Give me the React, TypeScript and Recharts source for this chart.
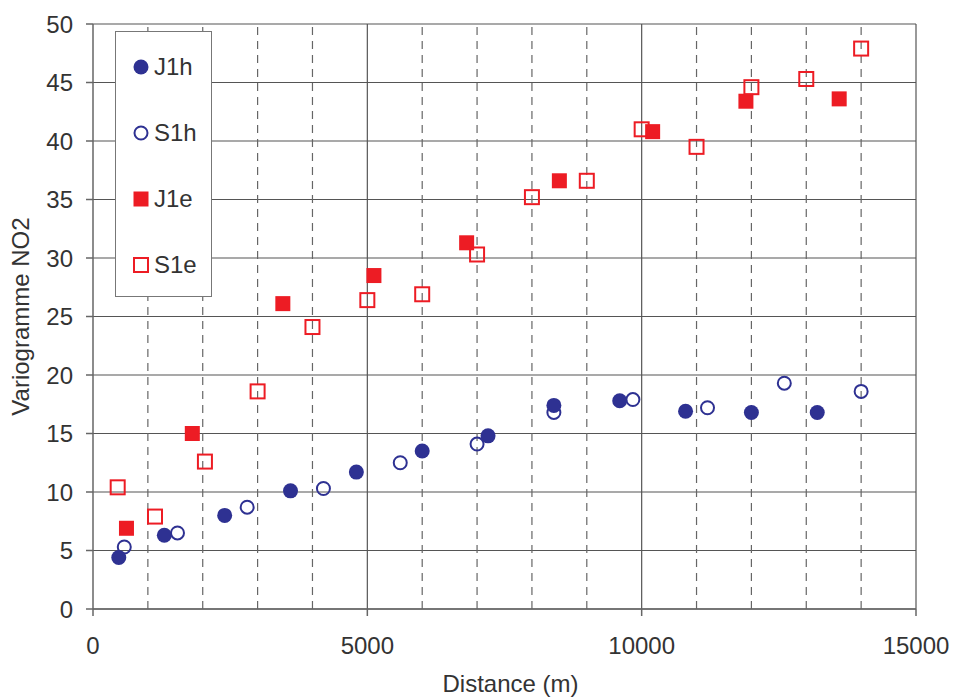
import { ScatterChart, Scatter, XAxis, YAxis, CartesianGrid, ReferenceLine, Legend } from 'recharts';

const j1hX = [470, 1300, 2400, 3600, 4800, 6000, 7200, 8400, 9600, 10800, 12000, 13200];
const j1hY = [4.4, 6.3, 8.0, 10.1, 11.7, 13.5, 14.8, 17.4, 17.8, 16.9, 16.8, 16.8];
const s1hX = [570, 1540, 2810, 4200, 5600, 7000, 8400, 9840, 11200, 12600, 14000];
const s1hY = [5.3, 6.5, 8.7, 10.3, 12.5, 14.1, 16.8, 17.9, 17.2, 19.3, 18.6];
const j1eX = [610, 1810, 3460, 5120, 6810, 8500, 10200, 11900, 13600];
const j1eY = [6.9, 15.0, 26.1, 28.5, 31.3, 36.6, 40.8, 43.4, 43.6];
const s1eX = [450, 1130, 2040, 3000, 4000, 5000, 6000, 7000, 8000, 9000, 10000, 11000, 12000, 13000, 14000];
const s1eY = [10.4, 7.9, 12.6, 18.6, 24.1, 26.4, 26.9, 30.3, 35.2, 36.6, 41.0, 39.5, 44.6, 45.3, 47.9];

const xTicks = [0, 5000, 10000, 15000];
const yTicks = [0, 5, 10, 15, 20, 25, 30, 35, 40, 45, 50];
const minorX = [1000, 2000, 3000, 4000, 6000, 7000, 8000, 9000, 11000, 12000, 13000, 14000];
const majorX = [5000, 10000, 15000];

const navy = '#2E3192';
const red = '#ED1C24';
const font = '"Liberation Sans", Arial, sans-serif';
const txt = '#333';

const toPts = (xs: number[], ys: number[]) => xs.map((x, i) => ({ x, y: ys[i] }));

const marker = (kind: string, cx: number, cy: number) => {
  if (kind === 'J1h') return <circle cx={cx} cy={cy} r={7.5} fill={navy} />;
  if (kind === 'S1h') return <circle cx={cx} cy={cy} r={6.5} fill="none" stroke={navy} strokeWidth={2} />;
  if (kind === 'J1e') return <rect x={cx - 7.5} y={cy - 7.5} width={15} height={15} fill={red} />;
  return <rect x={cx - 7} y={cy - 7} width={14} height={14} fill="none" stroke={red} strokeWidth={2} />;
};

const series = [
  { name: 'J1h', data: toPts(j1hX, j1hY) },
  { name: 'S1h', data: toPts(s1hX, s1hY) },
  { name: 'J1e', data: toPts(j1eX, j1eY) },
  { name: 'S1e', data: toPts(s1eX, s1eY) },
];
const drawOrder = ['S1h', 'J1h', 'J1e', 'S1e'];

const LegendBox = () => (
  <div style={{ paddingTop: 2 }}>
    {series.map((s) => (
      <div key={s.name} style={{ height: 66, display: 'flex', alignItems: 'center', paddingLeft: 16 }}>
        <svg width={18} height={18}>{marker(s.name, 9, 9)}</svg>
        <span style={{ marginLeft: 4, fontSize: 24, fontFamily: font, color: txt }}>{s.name}</span>
      </div>
    ))}
  </div>
);

export default function App() {
  return (
    <div style={{ position: 'absolute', left: 0, top: 0, background: '#fff' }}>
      <ScatterChart width={953} height={698} margin={{ top: 24, right: 37, left: 0, bottom: 0 }}>
        <CartesianGrid vertical={false} stroke="#555" strokeWidth={1.2} />
        {minorX.map((v) => (
          <ReferenceLine key={v} x={v} stroke="#666" strokeWidth={1.2} strokeDasharray="8 6" />
        ))}
        {majorX.map((v) => (
          <ReferenceLine key={v} x={v} stroke="#555" strokeWidth={1.2} />
        ))}
        <XAxis
          type="number"
          dataKey="x"
          domain={[0, 15000]}
          ticks={xTicks}
          height={89}
          tickSize={7}
          tickMargin={21}
          stroke="#666"
          strokeWidth={1.5}
          tick={{ fill: txt, fontSize: 24, fontFamily: font }}
          label={{ value: 'Distance (m)', position: 'insideBottom', offset: 6, dx: 6, fill: txt, fontSize: 24, fontFamily: font }}
        />
        <YAxis
          type="number"
          dataKey="y"
          domain={[0, 50]}
          ticks={yTicks}
          width={93}
          tickSize={7}
          tickMargin={13}
          stroke="#666"
          strokeWidth={1.5}
          tick={{ fill: txt, fontSize: 24, fontFamily: font }}
          label={{ value: 'Variogramme NO2', angle: -90, position: 'insideLeft', offset: 20, fill: txt, fontSize: 24, fontFamily: font, style: { textAnchor: 'middle' } }}
        />
        <Legend
          layout="vertical"
          align="center"
          verticalAlign="middle"
          content={<LegendBox />}
          wrapperStyle={{ position: 'absolute', left: 115, top: 31, width: 97, height: 266, border: '1.5px solid #777', background: '#fff', boxSizing: 'border-box' }}
        />
        {drawOrder.map((n) => {
          const s = series.find((q) => q.name === n)!;
          return (
            <Scatter
              key={n}
              name={n}
              data={s.data}
              isAnimationActive={false}
              shape={(p: any) => marker(n, p.cx, p.cy)}
            />
          );
        })}
      </ScatterChart>
    </div>
  );
}
